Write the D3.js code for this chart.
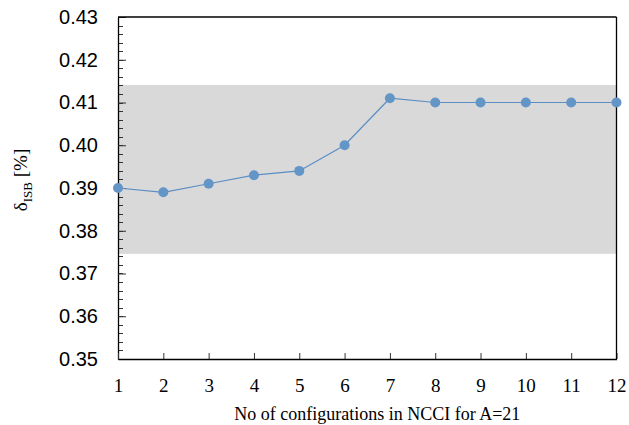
<!DOCTYPE html>
<html>
<head>
<meta charset="utf-8">
<script src="https://cdn.jsdelivr.net/npm/d3@7"></script>
<style>
  body { margin: 0; background: #fff; }
</style>
</head>
<body>
<div id="chart"></div>
<script>
// data
const configs = [1, 2, 3, 4, 5, 6, 7, 8, 9, 10, 11, 12];
const deltaIsb = [0.390, 0.389, 0.391, 0.393, 0.394, 0.400, 0.411, 0.410, 0.410, 0.410, 0.410, 0.410];
const band = [0.3746, 0.4141];
const yTicks = [0.35, 0.36, 0.37, 0.38, 0.39, 0.40, 0.41, 0.42, 0.43];

const width = 629, height = 425;
const margin = { top: 17, right: 12.5, bottom: 66, left: 118 };

const svg = d3.select("#chart").append("svg")
    .attr("width", width)
    .attr("height", height);

const x = d3.scaleLinear().domain([1, 12]).range([margin.left, width - margin.right]);
const y = d3.scaleLinear().domain([0.35, 0.43]).range([height - margin.bottom, margin.top]);

// grey band
svg.append("rect")
    .attr("x", x(1))
    .attr("y", y(band[1]))
    .attr("width", x(12) - x(1))
    .attr("height", y(band[0]) - y(band[1]))
    .style("fill", "#d9d9d9");

// minor y ticks
const minor = d3.range(0.35, 0.4301, 0.002);
svg.append("g").selectAll("line")
    .data(minor)
    .enter().append("line")
    .attr("x1", x(1)).attr("x2", x(1) + 5)
    .attr("y1", d => Math.round(y(d)) + 0.5).attr("y2", d => Math.round(y(d)) + 0.5)
    .style("stroke", "#333").style("stroke-width", 1);

// y axis
const yAxis = svg.append("g")
    .attr("transform", `translate(${x(1)},0)`)
    .call(d3.axisLeft(y).tickValues(yTicks).tickFormat(d3.format(".2f")).tickSizeInner(-8).tickSizeOuter(0).tickPadding(20));
yAxis.select(".domain").style("stroke", "#000").style("stroke-width", 1.3);
yAxis.selectAll(".tick line").style("stroke", "#333");
yAxis.selectAll("text")
    .style("font-family", "'Liberation Sans', Arial, sans-serif")
    .style("font-size", "20px")
    .style("fill", "#000");

// x axis
const xAxis = svg.append("g")
    .attr("transform", `translate(0,${y(0.35)})`)
    .call(d3.axisBottom(x).tickValues(configs).tickFormat(d3.format("d")).tickSizeInner(-6).tickSizeOuter(0).tickPadding(20));
xAxis.select(".domain").style("stroke", "#000").style("stroke-width", 1.3);
xAxis.selectAll(".tick line").style("stroke", "#333");
xAxis.selectAll("text")
    .style("font-family", "'Liberation Serif', 'DejaVu Serif', serif")
    .style("font-size", "19px")
    .style("fill", "#000");

// frame top and right
svg.append("line")
    .attr("x1", x(1)).attr("x2", x(12))
    .attr("y1", y(0.43)).attr("y2", y(0.43))
    .style("stroke", "#000").style("stroke-width", 1.3);
svg.append("line")
    .attr("x1", x(12)).attr("x2", x(12))
    .attr("y1", y(0.43)).attr("y2", y(0.35))
    .style("stroke", "#000").style("stroke-width", 1.3);

// series
const points = configs.map((c, i) => [c, deltaIsb[i]]);
svg.append("path")
    .datum(points)
    .attr("d", d3.line().x(d => x(d[0])).y(d => y(d[1])))
    .style("fill", "none")
    .style("stroke", "#5b8ec4")
    .style("stroke-width", 1.2);

svg.selectAll("circle.pt")
    .data(points)
    .enter().append("circle")
    .attr("class", "pt")
    .attr("cx", d => x(d[0]))
    .attr("cy", d => y(d[1]))
    .attr("r", 5)
    .style("fill", "#6395c6");

// axis titles
svg.append("text")
    .attr("x", (x(1) + x(12)) / 2 + 10)
    .attr("y", 420)
    .attr("text-anchor", "middle")
    .style("font-family", "'Liberation Serif', 'DejaVu Serif', serif")
    .style("font-size", "18px")
    .text("No of configurations in NCCI for A=21");

const yTitle = svg.append("text")
    .attr("transform", `translate(27,180) rotate(-90)`)
    .attr("text-anchor", "middle")
    .style("font-family", "'Liberation Serif', 'DejaVu Serif', serif")
    .style("font-size", "19px");
yTitle.append("tspan").text("δ");
yTitle.append("tspan").attr("dy", 5).style("font-size", "13px").text("ISB");
yTitle.append("tspan").attr("dy", -5).text(" [%]");
</script>
</body>
</html>
